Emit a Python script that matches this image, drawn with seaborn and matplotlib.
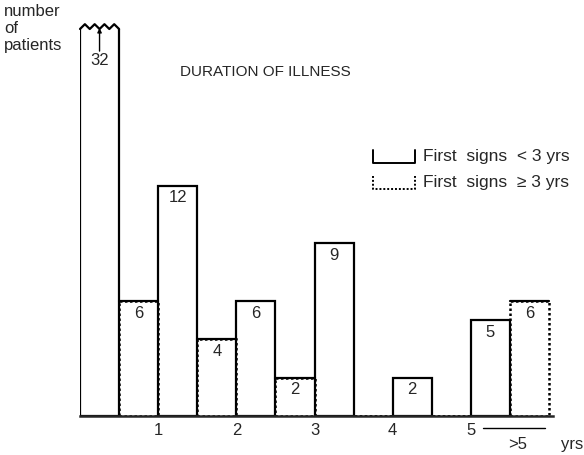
import numpy as np
import pandas as pd
import matplotlib
matplotlib.use("Agg")
import matplotlib.pyplot as plt
import seaborn as sns

# year bins (centre positions) and patient counts
bin_pos = [0.5, 1.5, 2.5, 3.5, 4.5, 5.5]
tick_pos = [1, 2, 3, 4, 5]
tick_labels = ["1", "2", "3", "4", "5"]
first_signs_lt3 = [32, 12, 6, 9, 2, 5]
first_signs_ge3 = [6, 4, 2, 0, 0, 6]
groups = ["First signs <3yrs", "First signs \u22653yrs"]
legend_texts = ["First  signs  < 3 yrs", "First  signs  \u2265 3 yrs"]

df = pd.DataFrame({
    "pos": bin_pos * 2,
    "n": first_signs_lt3 + first_signs_ge3,
    "group": [groups[0]] * len(bin_pos) + [groups[1]] * len(bin_pos),
})

sns.set_style("white")
plt.rcParams["font.family"] = ["Liberation Sans", "DejaVu Sans"]

fig = plt.figure(figsize=(5.84, 4.56), dpi=100)
ax = fig.add_axes([80 / 584, 39 / 456, 473 / 584, 387 / 456])

sns.barplot(
    data=df, x="pos", y="n", hue="group", hue_order=groups,
    native_scale=True, width=1, dodge=True, fill=False,
    palette=["black", "black"], linewidth=1.6, errorbar=None,
    legend=False, ax=ax,
)

for bar in ax.containers[1]:
    bar.set_linestyle((0, (1, 1)))
    bar.set_linewidth(1.8)

# the dotted bars have a solid top edge
for p, b in zip(bin_pos, first_signs_ge3):
    if b > 0:
        ax.plot([p, p + 0.5], [b, b], color="black", lw=1.6)

ymax = 20.15
ax.set_xlim(0, 6.05)
ax.set_ylim(0, ymax)
for s in ["left", "right", "top"]:
    ax.spines[s].set_visible(False)
ax.spines["bottom"].set_linewidth(1.8)
ax.set_xticks(tick_pos)
ax.set_xticklabels(tick_labels, fontsize=12)
ax.tick_params(axis="x", length=0, pad=4)
ax.set_yticks([])
ax.set_xlabel("")
ax.set_ylabel("")

# value labels inside the bar tops
for p, a, b in zip(bin_pos, first_signs_lt3, first_signs_ge3):
    if 0 < a < ymax:
        ax.text(p - 0.25, a - 0.2, str(a), ha="center", va="top", fontsize=12)
    if 0 < b < ymax:
        ax.text(p + 0.25, b - 0.2, str(b), ha="center", va="top", fontsize=12)

# broken top of the tallest bar
zx = np.linspace(0, 0.5, 9)
zy = ymax + np.array([0, 0.25, 0, 0.25, 0, 0.25, 0, 0.25, 0])
ax.plot(zx, zy, color="black", lw=1.6, clip_on=False)
ax.text(0.25, 18.95, str(first_signs_lt3[0]), ha="center", va="top", fontsize=12)
ax.annotate("", xy=(0.25, ymax + 0.05), xytext=(0.25, 19.0),
            arrowprops=dict(arrowstyle="-|>", color="black", lw=1,
                            mutation_scale=6, shrinkA=0, shrinkB=0),
            annotation_clip=False)

# ">5" label under the last group
ax.plot([5.15, 5.95], [-0.6, -0.6], color="black", lw=1, clip_on=False)
ax.text(5.6, -1.05, ">5", ha="center", va="top", fontsize=12)
ax.text(6.15, -1.05, "yrs", ha="left", va="top", fontsize=12)

# titles
fig.text(4 / 584, 1 - 4 / 456, "number\nof\npatients", ha="left", va="top",
         fontsize=12, linespacing=1.15)
fig.text(265 / 584, 1 - 72 / 456, "DURATION OF ILLNESS", ha="center",
         va="center", fontsize=11)

# legend with open-top boxes
for i, label in enumerate(legend_texts):
    y0 = 1 - (164 + 26 * i) / 456
    style = "-" if i == 0 else (0, (1, 1))
    fig.add_artist(plt.Line2D(
        [373 / 584, 373 / 584, 415 / 584, 415 / 584],
        [y0 + 13 / 456, y0, y0, y0 + 13 / 456],
        color="black", lw=1.4, linestyle=style))
    fig.text(423 / 584, y0 + 7 / 456, label, ha="left", va="center",
             fontsize=12.5)

fig.savefig("out.png", dpi=100)
